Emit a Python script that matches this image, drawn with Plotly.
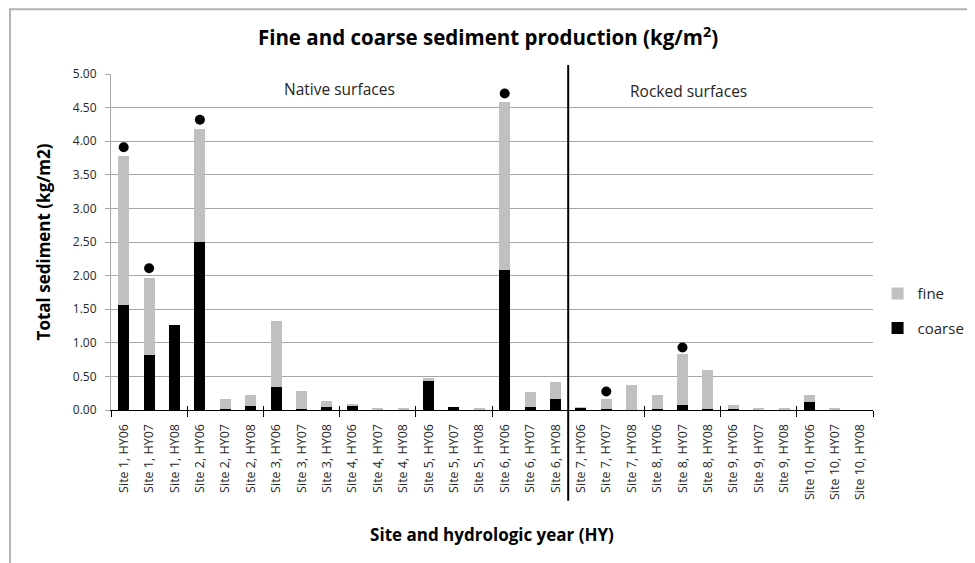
import plotly.graph_objects as go

sites = [f"Site {i}" for i in range(1, 11)]
years = ["HY06", "HY07", "HY08"]
categories = [f"{s}, {y}" for s in sites for y in years]

coarse = [1.57, 0.82, 1.26, 2.50, 0.02, 0.06, 0.345, 0.02, 0.05, 0.07, 0.0, 0.0,
          0.43, 0.05, 0.0, 2.09, 0.05, 0.17, 0.03, 0.02, 0.0, 0.02, 0.08, 0.02,
          0.02, 0.0, 0.0, 0.125, 0.0, 0.0]
fine = [2.21, 1.15, 0.0, 1.68, 0.14, 0.17, 0.975, 0.27, 0.09, 0.01, 0.02, 0.02,
        0.04, 0.0, 0.02, 2.50, 0.215, 0.25, 0.01, 0.14, 0.365, 0.205, 0.75, 0.57,
        0.06, 0.015, 0.015, 0.10, 0.015, 0.0]
dots = [3.91, 2.11, None, 4.32, None, None, None, None, None, None, None, None,
        None, None, None, 4.71, None, None, None, 0.275, None, None, 0.93, None,
        None, None, None, None, None, None]

n_native = 18  # Sites 1-6
group_edges = [3 * i - 0.5 for i in range(11)]

FONT = "Open Sans"
TXT = "#262626"

# page body adds an 8px offset; figure is sized to fit the 975x563 window
W, H = 967, 555

fig = go.Figure()
fig.add_trace(go.Bar(x=categories, y=coarse, name="coarse", marker_color="#000000",
                     marker_line_width=0, legendgroup="c", legendrank=2))
fig.add_trace(go.Bar(x=categories, y=fine, name="fine", marker_color="#c0c0c0",
                     marker_line_width=0, legendgroup="f", legendrank=1))
fig.add_trace(go.Scatter(x=categories, y=dots, mode="markers", showlegend=False,
                         marker=dict(color="#000000", size=10, symbol="circle")))
fig.add_trace(go.Scatter(x=[None], y=[None], xaxis="x2", showlegend=False, hoverinfo="skip"))
fig.add_trace(go.Scatter(x=[None], y=[None], xaxis="x3", showlegend=False, hoverinfo="skip"))

fig.update_layout(
    width=W, height=H,
    margin=dict(l=103, r=102, t=66, b=152.5, autoexpand=False),
    paper_bgcolor="white", plot_bgcolor="white",
    barmode="stack", bargap=0.57,
    font=dict(family=FONT, color=TXT, size=12),
    title=dict(text="<b>Fine and coarse sediment production (kg/m<sup>2</sup>)</b>",
               x=(488 - 8) / W, xref="container", y=1 - 30 / H, yref="container",
               xanchor="center", yanchor="middle",
               font=dict(family=FONT, size=20.5, color="#000000")),
    legend=dict(x=1.006, y=0.395, xanchor="left", yanchor="top",
                traceorder="grouped", tracegroupgap=12,
                font=dict(family=FONT, size=15, color=TXT), itemwidth=30,
                bgcolor="rgba(0,0,0,0)"),
    xaxis=dict(type="category", range=[-0.5, 29.5], tickangle=-90, ticks="",
               showline=True, linecolor="#000000", linewidth=1, showgrid=False,
               ticklabelstandoff=8, automargin=False,
               tickfont=dict(family=FONT, size=12.5, color=TXT),
               title=dict(text="<b>Site and hydrologic year (HY)</b>", standoff=30,
                          font=dict(family=FONT, size=17, color="#000000"))),
    xaxis2=dict(overlaying="x", anchor="y", range=[-0.5, 29.5], tickvals=group_edges,
                ticks="outside", ticklen=6, tickcolor="#000000", showticklabels=False,
                showgrid=False, zeroline=False, showline=False, side="bottom"),
    xaxis3=dict(overlaying="x", anchor="y", range=[-0.5, 29.5], tickvals=group_edges,
                ticks="inside", ticklen=4, tickcolor="#000000", showticklabels=False,
                showgrid=False, zeroline=False, showline=False, side="bottom"),
    yaxis=dict(range=[0, 5], dtick=0.5, tickformat=".2f", showgrid=True,
               gridcolor="#a6a6a6", gridwidth=1, showline=True, linecolor="#a6a6a6",
               ticks="outside", ticklen=5, tickcolor="#a6a6a6", zeroline=False,
               ticklabelstandoff=6, automargin=False,
               tickfont=dict(family=FONT, size=12, color=TXT),
               title=dict(text="<b>Total sediment (kg/m2)</b>", standoff=17,
                          font=dict(family=FONT, size=17, color="#000000"))),
)

# Divider between native and rocked surfaces
xdiv = n_native / len(categories)
fig.add_shape(type="line", xref="paper", yref="paper", x0=xdiv, x1=xdiv,
              y0=-0.27, y1=1.027, line=dict(color="#000000", width=2))

# Outer chart frame (left and top edges visible)
fig.add_shape(type="path", xref="paper", yref="paper",
              path="M -0.1325,-0.6 L -0.1325,1.193 L 1.3,1.193",
              line=dict(color="#b3b3b3", width=2))

fig.add_annotation(text="Native surfaces", xref="paper", yref="y", x=0.3005, y=4.77,
                   xanchor="center", showarrow=False,
                   font=dict(family=FONT, size=15.5, color=TXT))
fig.add_annotation(text="Rocked surfaces", xref="paper", yref="y", x=0.7585, y=4.74,
                   xanchor="center", showarrow=False,
                   font=dict(family=FONT, size=15.5, color=TXT))

fig.write_html("out.html")
